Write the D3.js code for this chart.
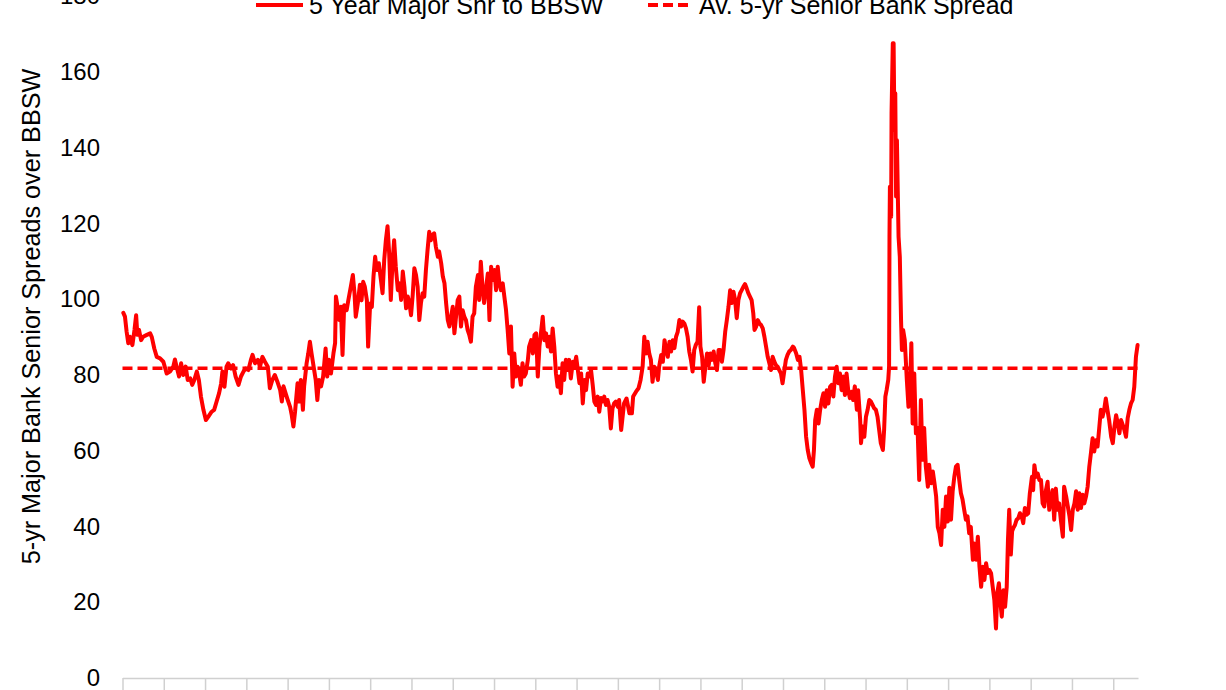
<!DOCTYPE html>
<html><head><meta charset="utf-8">
<script src="https://cdn.jsdelivr.net/npm/d3@7"></script>
<style>html,body{margin:0;padding:0;background:#fff;overflow:hidden}</style>
</head><body><svg id="chart" width="1226" height="690"></svg>
<script>
// ---- data ----
const yTickValues = [0, 20, 40, 60, 80, 100, 120, 140, 160, 180];
const xTickValues = d3.range(0, 25);          // period tick marks
const xEnd = 24.6;                             // last observation (in periods)
const avgSpread = 81.8;
const legendLabels = ["5 Year Major Snr to BBSW", "Av. 5-yr Senior Bank Spread"];
const yAxisTitle = "5-yr Major Bank Senior Spreads over BBSW";
// [period, spread in bp]
const spreadSeries = [
[0.02,96.4],[0.06,95.4],[0.10,91.4],[0.14,88.4],[0.18,90.1],[0.24,87.9],[0.29,91.9],[0.33,95.8],[0.36,90.6],[0.40,91.9],
[0.45,89.2],[0.50,90.1],[0.59,90.6],[0.67,91.0],[0.71,90.0],[0.77,87.0],[0.83,84.8],[0.91,84.4],[0.99,83.5],[1.07,80.4],
[1.15,80.9],[1.23,82.2],[1.27,84.1],[1.31,82.2],[1.37,79.6],[1.42,83.1],[1.47,80.0],[1.53,82.2],[1.58,78.7],[1.64,79.1],
[1.69,77.4],[1.74,78.7],[1.80,80.9],[1.85,78.7],[1.90,74.3],[1.96,70.8],[2.02,68.1],[2.08,69.0],[2.16,70.3],[2.22,70.8],
[2.28,73.0],[2.34,75.2],[2.39,77.8],[2.42,80.9],[2.47,76.9],[2.52,82.2],[2.56,83.1],[2.63,81.7],[2.68,82.6],[2.74,79.6],
[2.81,77.4],[2.87,79.6],[2.93,80.9],[2.98,81.7],[3.05,81.3],[3.11,84.0],[3.15,85.3],[3.21,83.1],[3.28,84.0],[3.33,82.2],
[3.39,84.8],[3.45,83.5],[3.52,82.2],[3.57,76.5],[3.63,78.7],[3.69,80.0],[3.75,78.3],[3.82,76.0],[3.86,73.0],[3.90,77.0],
[3.95,75.2],[4.00,73.5],[4.06,71.6],[4.10,69.4],[4.14,66.4],[4.18,70.3],[4.24,77.8],[4.28,73.0],[4.32,78.7],[4.37,70.8],
[4.40,77.0],[4.46,83.1],[4.50,85.7],[4.54,88.8],[4.58,85.7],[4.63,82.2],[4.68,78.7],[4.72,73.4],[4.76,78.7],[4.81,77.0],
[4.86,79.6],[4.92,87.0],[4.96,79.6],[5.00,84.0],[5.05,80.4],[5.11,85.7],[5.15,88.4],[5.17,100.7],[5.21,98.0],[5.25,94.5],
[5.29,98.0],[5.33,85.3],[5.37,98.4],[5.43,97.1],[5.47,99.7],[5.53,103.3],[5.58,106.4],[5.62,101.6],[5.65,95.4],[5.70,98.9],
[5.75,103.8],[5.79,99.7],[5.83,104.6],[5.87,103.3],[5.92,99.7],[5.95,87.5],[6.00,98.9],[6.04,98.0],[6.08,106.0],[6.12,111.2],
[6.16,107.7],[6.21,109.5],[6.26,105.1],[6.30,101.6],[6.34,110.4],[6.38,115.6],[6.42,119.3],[6.46,112.1],[6.50,99.8],[6.54,109.5],
[6.58,115.6],[6.62,108.6],[6.67,102.4],[6.71,104.2],[6.75,99.8],[6.79,107.3],[6.83,103.3],[6.87,97.6],[6.91,100.7],[6.95,99.0],
[6.99,95.8],[7.03,101.1],[7.07,108.2],[7.11,106.4],[7.15,103.3],[7.19,94.5],[7.23,99.0],[7.27,101.6],[7.31,100.7],[7.35,107.7],
[7.39,113.0],[7.43,117.8],[7.47,115.6],[7.51,117.0],[7.55,117.4],[7.59,113.9],[7.64,111.2],[7.67,112.6],[7.72,109.5],[7.76,106.0],
[7.80,104.2],[7.84,98.9],[7.88,94.5],[7.92,92.8],[7.96,95.4],[8.00,98.0],[8.04,91.0],[8.08,95.4],[8.12,99.8],[8.16,100.7],
[8.20,92.8],[8.24,97.1],[8.28,95.4],[8.32,94.5],[8.36,91.9],[8.40,90.6],[8.44,88.8],[8.48,95.4],[8.52,96.3],[8.56,103.3],
[8.61,106.4],[8.64,99.8],[8.68,109.9],[8.72,103.3],[8.76,99.0],[8.81,103.3],[8.85,106.8],[8.89,94.5],[8.93,108.6],[8.97,105.1],
[9.01,107.7],[9.05,102.4],[9.09,108.6],[9.13,104.2],[9.17,102.4],[9.21,104.2],[9.25,100.7],[9.29,97.2],[9.33,91.9],[9.37,85.7],
[9.41,92.8],[9.45,76.9],[9.49,85.7],[9.53,79.6],[9.57,82.2],[9.61,80.4],[9.65,77.4],[9.69,83.1],[9.73,79.6],[9.77,80.4],
[9.82,84.0],[9.85,87.5],[9.90,89.2],[9.94,85.7],[9.98,90.6],[10.02,91.0],[10.06,79.6],[10.10,87.5],[10.14,91.4],[10.18,95.4],
[10.22,89.2],[10.26,91.0],[10.30,87.5],[10.34,90.1],[10.38,86.2],[10.42,92.3],[10.46,87.5],[10.50,80.4],[10.54,76.9],[10.58,79.6],
[10.62,75.2],[10.66,83.1],[10.70,78.7],[10.74,84.0],[10.78,81.3],[10.82,84.0],[10.86,79.1],[10.91,83.5],[10.94,82.2],[10.99,84.8],
[11.03,81.3],[11.07,77.8],[11.11,80.4],[11.15,72.5],[11.19,78.7],[11.23,76.0],[11.27,80.4],[11.31,79.6],[11.35,81.3],[11.39,77.4],
[11.43,73.0],[11.47,72.1],[11.51,74.3],[11.55,70.3],[11.59,73.9],[11.63,73.0],[11.67,74.3],[11.71,72.1],[11.75,73.4],[11.79,71.6],
[11.83,65.9],[11.87,71.2],[11.91,72.5],[11.95,73.0],[12.00,71.6],[12.03,73.4],[12.08,65.5],[12.15,72.5],[12.21,73.8],[12.28,69.9],
[12.34,69.9],[12.37,74.3],[12.44,75.6],[12.50,76.5],[12.55,78.7],[12.60,82.2],[12.64,90.1],[12.68,85.7],[12.72,88.8],[12.76,85.7],
[12.80,84.0],[12.84,78.2],[12.88,82.2],[12.92,81.3],[12.97,78.7],[13.00,82.2],[13.05,85.3],[13.09,83.5],[13.13,89.2],[13.17,86.6],
[13.21,84.8],[13.25,88.8],[13.29,86.2],[13.33,89.2],[13.37,87.1],[13.41,90.1],[13.45,91.4],[13.49,94.5],[13.53,92.8],[13.57,94.1],
[13.61,93.6],[13.65,92.3],[13.69,90.1],[13.73,86.2],[13.77,84.0],[13.81,80.9],[13.85,86.6],[13.89,88.0],[13.93,88.8],[13.97,97.9],
[14.00,87.5],[14.04,84.8],[14.08,78.2],[14.12,82.2],[14.16,85.7],[14.20,82.6],[14.24,85.7],[14.28,84.0],[14.32,86.2],[14.36,83.1],
[14.40,81.3],[14.44,86.6],[14.48,86.6],[14.52,83.5],[14.56,86.6],[14.60,91.4],[14.64,94.5],[14.68,98.0],[14.72,102.4],[14.76,99.0],
[14.80,102.0],[14.84,99.8],[14.88,95.0],[14.92,99.8],[14.96,101.6],[15.00,102.4],[15.04,103.3],[15.08,104.0],[15.12,102.9],[15.16,101.6],
[15.20,100.7],[15.24,99.8],[15.28,96.3],[15.31,91.9],[15.35,92.8],[15.39,94.5],[15.43,93.6],[15.47,93.2],[15.51,92.3],[15.55,90.1],
[15.59,87.5],[15.63,84.8],[15.67,83.1],[15.71,81.3],[15.75,84.8],[15.79,83.5],[15.83,82.6],[15.87,82.2],[15.91,81.3],[15.95,80.4],
[15.99,77.8],[16.03,80.9],[16.07,84.0],[16.11,85.3],[16.15,86.2],[16.19,86.6],[16.24,87.5],[16.27,87.1],[16.32,85.7],[16.36,84.0],
[16.40,84.8],[16.44,81.3],[16.48,76.0],[16.52,70.8],[16.56,63.7],[16.60,60.2],[16.64,58.0],[16.68,56.8],[16.72,55.8],[16.75,60.2],
[16.78,68.1],[16.82,70.8],[16.86,67.2],[16.90,70.8],[16.94,73.4],[16.98,75.2],[17.02,71.6],[17.06,76.0],[17.10,72.5],[17.14,76.9],
[17.18,77.4],[17.22,74.3],[17.26,79.6],[17.30,82.2],[17.34,77.8],[17.38,80.4],[17.42,76.0],[17.46,79.6],[17.50,74.7],[17.54,80.4],
[17.58,76.0],[17.62,73.9],[17.66,75.6],[17.70,73.4],[17.74,77.0],[17.79,70.8],[17.82,76.0],[17.87,68.1],[17.89,62.0],[17.93,66.4],
[17.97,63.7],[18.01,69.0],[18.05,70.8],[18.09,73.4],[18.13,73.0],[18.17,72.1],[18.21,71.2],[18.25,70.8],[18.29,69.0],[18.33,65.5],
[18.37,62.0],[18.42,60.2],[18.45,65.5],[18.48,74.3],[18.51,76.0],[18.55,78.7],[18.57,82.2],[18.58,116.5],[18.59,129.7],[18.62,121.8],
[18.63,149.1],[18.66,167.6],[18.68,167.6],[18.70,144.7],[18.72,154.4],[18.74,127.1],[18.76,142.0],[18.78,128.8],[18.80,116.5],[18.83,111.2],
[18.86,94.5],[18.88,86.6],[18.91,91.9],[18.95,89.2],[19.00,78.7],[19.04,71.6],[19.08,77.8],[19.11,88.4],[19.14,67.2],[19.18,80.4],
[19.22,64.6],[19.26,66.0],[19.30,52.3],[19.34,73.4],[19.38,57.6],[19.42,66.0],[19.46,55.8],[19.51,50.5],[19.54,56.3],[19.59,51.4],
[19.63,54.5],[19.67,51.4],[19.71,47.9],[19.75,39.9],[19.79,38.2],[19.83,35.1],[19.87,44.4],[19.91,39.9],[19.95,47.9],[19.99,41.3],
[20.03,50.2],[20.07,41.8],[20.11,49.3],[20.15,53.1],[20.19,55.8],[20.23,56.3],[20.27,52.3],[20.31,48.8],[20.35,47.1],[20.39,44.4],
[20.43,41.8],[20.47,42.7],[20.51,38.2],[20.55,39.9],[20.60,31.2],[20.63,35.5],[20.68,31.2],[20.72,37.3],[20.76,29.4],[20.80,24.1],
[20.84,29.4],[20.88,25.9],[20.92,30.3],[20.96,27.7],[21.00,28.5],[21.04,27.7],[21.08,24.1],[21.12,20.6],[21.16,13.1],[21.19,22.4],
[21.23,25.0],[21.26,20.6],[21.30,16.2],[21.34,23.2],[21.38,18.8],[21.42,24.1],[21.45,36.4],[21.48,44.4],[21.52,32.6],[21.55,38.7],
[21.58,39.6],[21.62,40.4],[21.66,41.8],[21.70,42.2],[21.74,43.5],[21.78,42.7],[21.82,40.9],[21.86,44.9],[21.90,43.1],[21.94,43.5],
[21.98,48.8],[22.03,53.1],[22.06,49.6],[22.09,56.2],[22.13,53.1],[22.17,54.0],[22.21,52.3],[22.25,52.3],[22.29,46.1],[22.33,45.3],
[22.37,49.6],[22.41,51.8],[22.45,44.4],[22.49,47.1],[22.53,49.6],[22.57,41.8],[22.61,50.0],[22.65,44.4],[22.69,46.1],[22.73,41.8],
[22.78,37.3],[22.81,50.5],[22.86,47.9],[22.90,45.3],[22.94,42.7],[22.98,39.1],[23.02,44.4],[23.06,46.1],[23.10,49.3],[23.14,44.4],
[23.18,48.8],[23.22,44.9],[23.26,48.4],[23.30,46.1],[23.34,47.9],[23.38,50.5],[23.42,55.8],[23.46,59.4],[23.50,63.3],[23.54,59.8],
[23.58,62.8],[23.62,61.1],[23.66,65.9],[23.70,70.8],[23.74,69.0],[23.78,70.8],[23.82,73.8],[23.86,70.8],[23.90,68.1],[23.95,63.7],
[23.99,62.0],[24.03,66.4],[24.07,69.4],[24.11,67.2],[24.15,64.6],[24.19,68.1],[24.23,66.8],[24.27,65.5],[24.31,63.7],[24.35,68.6],
[24.39,70.8],[24.43,72.5],[24.47,73.4],[24.51,76.9],[24.55,84.8],[24.59,87.9]
];

// ---- layout ----
const W = 1226, H = 690;
const plot = {left: 122.5, right: 1138, top: -3.75, bottom: 678};
const FONT = "'Liberation Sans', Arial, sans-serif";
const RED = "#ff0000";

const svg = d3.select("#chart");
svg.append("rect").attr("width", W).attr("height", H).attr("fill", "#fff");

const x = d3.scaleLinear().domain([0, xEnd]).range([plot.left, plot.right]);
const y = d3.scaleLinear().domain([0, 180]).range([plot.bottom, plot.top]);

// x axis (labels fall outside the frame)
const xAxis = svg.append("g")
  .attr("transform", `translate(0,${plot.bottom})`)
  .call(d3.axisBottom(x).tickValues(xTickValues).tickSize(12).tickSizeOuter(0).tickFormat(""));
xAxis.select(".domain").attr("stroke", "#d0d0d0").attr("stroke-width", 1.5);
xAxis.selectAll(".tick line").attr("stroke", "#d0d0d0").attr("stroke-width", 1.5);

// y axis labels only
const yAxis = svg.append("g")
  .attr("transform", `translate(${plot.left},0)`)
  .call(d3.axisLeft(y).tickValues(yTickValues).tickSize(0).tickPadding(22.5));
yAxis.select(".domain").remove();
yAxis.selectAll("text").attr("font-family", FONT).attr("font-size", 24).attr("fill", "#000");

// y axis title
svg.append("text")
  .attr("transform", `translate(40,316.5) rotate(-90)`)
  .attr("text-anchor", "middle")
  .attr("font-family", FONT).attr("font-size", 25.2).attr("fill", "#000")
  .text(yAxisTitle);

// average line
svg.append("line")
  .attr("x1", x(0)).attr("x2", x(xEnd))
  .attr("y1", y(avgSpread)).attr("y2", y(avgSpread))
  .attr("stroke", RED).attr("stroke-width", 3.5).attr("stroke-dasharray", "10,5");

// series line
const line = d3.line().x(d => x(d[0])).y(d => y(d[1]));
svg.append("path")
  .datum(spreadSeries)
  .attr("d", line)
  .attr("fill", "none").attr("stroke", RED).attr("stroke-width", 4)
  .attr("stroke-linejoin", "round").attr("stroke-linecap", "round");

// legend
const legend = svg.append("g");
const items = [
  {label: legendLabels[0], x0: 256, x1: 303, tx: 309, dash: null},
  {label: legendLabels[1], x0: 648, x1: 690, tx: 699, dash: "10,5"}
];
items.forEach(it => {
  legend.append("line").attr("x1", it.x0).attr("x2", it.x1).attr("y1", 5).attr("y2", 5)
    .attr("stroke", RED).attr("stroke-width", 4).attr("stroke-dasharray", it.dash);
  legend.append("text").attr("x", it.tx).attr("y", 14)
    .attr("font-family", FONT).attr("font-size", 25).attr("fill", "#000").text(it.label);
});
</script></body></html>
